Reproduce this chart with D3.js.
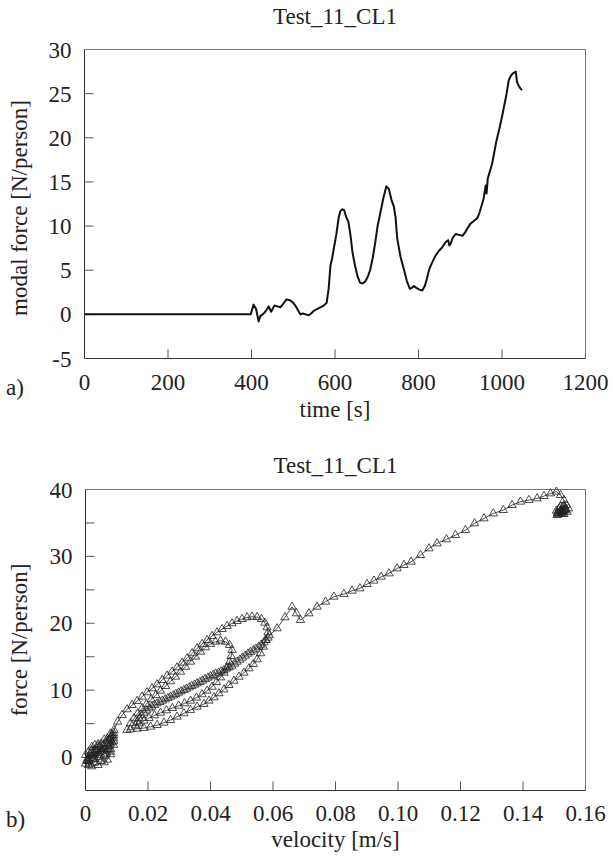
<!DOCTYPE html>
<html><head><meta charset="utf-8">
<script src="https://cdn.jsdelivr.net/npm/d3@7"></script>
<style>body{margin:0;background:#fff}svg{display:block}text{font-family:"Liberation Serif","Times New Roman",serif;fill:#222}</style>
</head><body>
<script>
// ---------- DATA ----------
const chartTitle = "Test_11_CL1";
// (a) modal force time history
const timeS = [0,100,200,300,398,405,411,417,421,427,433,441,447,455,462,469,476,484,492,500,505,511,517,523,530,537,543,549,557,565,573,580,585,589,593,597,603,609,613,618,622,627,632,637,642,648,654,660,666,672,678,684,690,696,702,709,716,723,729,735,741,745,749,757,765,772,779,784,789,795,802,809,815,820,825,832,840,849,857,865,871,874,877,882,889,897,905,912,918,925,933,941,946,951,956,959,961,963,966,971,976,981,986,991,996,1001,1006,1011,1016,1021,1026,1030,1033,1036,1040,1044,1048];
const modalForce = [0,0,0,0,0,1.1,0.6,-0.8,-0.2,0.0,0.3,0.9,0.3,1.0,0.9,0.8,1.2,1.7,1.6,1.3,1.0,0.5,0.0,0.1,0.0,-0.1,0.1,0.4,0.6,0.8,1.0,1.3,3.0,5.5,6.3,7.4,9.0,11.0,11.7,11.9,11.8,11.0,10.5,9.0,7.0,5.5,4.3,3.6,3.5,3.7,4.2,5.0,6.3,8.0,10.0,11.6,13.2,14.5,14.2,13.0,12.2,11.0,8.6,6.5,5.1,3.8,2.9,3.0,3.2,3.0,2.8,2.7,3.2,4.0,5.0,5.8,6.6,7.2,7.6,8.2,8.4,7.8,8.0,8.7,9.1,9.0,8.9,9.3,9.8,10.3,10.6,10.9,11.5,12.3,13.1,14.0,14.6,13.7,15.4,16.2,17.0,18.2,19.5,20.5,21.5,22.6,23.8,25.0,26.5,27.0,27.3,27.4,27.5,26.3,25.9,25.6,25.4];
const timeTicks = [0,200,400,600,800,1000,1200];
const modalTicks = [-5,0,5,10,15,20,25,30];

// (b) force vs velocity
const velocity = [
 0.000,0.001,0.002,0.001,0.000,0.001,0.003,0.004,0.003,0.002,0.004,0.005,0.006,0.005,0.004,0.002,0.001,0.003,0.005,0.007,0.008,0.007,0.006,0.008,0.009,0.008,0.007,0.006,0.008,0.009,0.009,0.008,0.007,0.005,0.003,0.002,0.004,0.006,0.008,0.009,
 0.0005,0.0015,0.0025,0.0035,0.0045,0.0055,0.0065,0.0075,0.0085,0.0070,0.0050,0.0030,0.0015,0.0005,0.0020,0.0040,0.0060,0.0080,0.0090,0.0085,
 0.0091,0.0103,0.0117,0.0133,0.0149,0.0165,0.0181,0.0197,0.0213,0.0229,0.0245,0.0261,0.0277,0.0293,0.0309,0.0325,0.0341,0.0357,0.0373,0.0389,0.0405,0.0421,0.0437,0.0453,0.0469,0.0485,0.0501,0.0517,0.0533,0.0549,0.0563,0.0574,0.0581,0.0584,
 0.0576,0.0569,0.0560,0.0549,0.0537,0.0523,0.0507,0.0491,0.0475,0.0459,0.0443,0.0427,0.0411,0.0395,0.0379,0.0357,0.0336,0.0315,0.0293,0.0272,0.0251,0.0229,0.0208,0.0187,0.0165,0.0144,0.0133,
 0.0144,0.0155,0.0167,0.0181,0.0195,0.0210,0.0225,0.0240,0.0256,0.0272,0.0288,0.0304,0.0320,0.0336,0.0352,0.0368,0.0384,0.0400,0.0416,0.0432,0.0448,0.0461,0.0469,
 0.0466,0.0461,0.0453,0.0443,0.0432,0.0419,0.0405,0.0389,0.0373,0.0355,0.0336,0.0317,0.0298,0.0278,0.0259,0.0240,0.0221,0.0203,0.0187,0.0172,0.0160,
 0.0165,0.0172,0.0179,0.0187,0.0195,0.0204,0.0212,0.0221,0.0229,0.0238,0.0246,0.0255,0.0264,0.0272,0.0281,0.0289,0.0298,0.0306,0.0315,0.0323,0.0332,0.0340,0.0349,0.0357,0.0366,0.0374,0.0383,0.0392,0.0400,0.0409,0.0417,0.0426,0.0434,0.0443,0.0451,0.0460,0.0468,0.0477,0.0485,0.0494,0.0502,0.0511,0.0520,0.0528,0.0537,0.0545,0.0554,0.0562,0.0571,0.0578,0.0584,0.0588,
 0.0613,0.0638,0.0661,0.0675,0.0688,0.0715,0.0741,0.0768,0.0795,
 0.0827,0.0853,0.0878,0.0901,0.0923,0.0946,0.0971,0.0997,0.1019,0.1042,0.1072,0.1099,0.1125,0.1155,0.1184,0.1216,0.1245,0.1275,0.1305,0.1337,0.1365,0.1392,0.1419,0.1445,0.1467,0.1488,0.1507,0.1520,0.1531,0.1539,0.1546,0.1541,0.1531,0.1515,0.1507,0.1520,0.1533,0.1525,0.1509,0.1522,
 0.1512,0.1526,0.1537,0.1530,0.1516,0.1510,0.1523,0.1535,0.1528,0.1514,0.1519,0.1531];
const force = [
 -1.0,-0.5,0.2,0.8,0.3,-1.2,-0.8,0.0,1.0,1.5,1.6,0.8,0.2,-0.6,-1.2,-1.4,-0.2,0.5,1.4,1.0,0.4,-0.4,-0.8,0.8,1.8,2.6,2.0,1.6,1.2,2.4,3.2,3.5,2.8,2.0,1.8,1.0,0.6,1.2,2.0,2.8,
 -0.6,0.4,-0.2,0.9,0.3,1.1,0.5,1.6,2.2,2.4,1.2,-0.3,-1.0,-0.4,0.6,1.9,2.6,3.0,3.6,3.3,
 4.04,5.28,6.28,7.13,7.77,8.37,9.02,9.67,10.27,10.86,11.51,12.16,12.76,13.40,14.10,14.75,15.50,16.25,16.90,17.49,18.09,18.63,19.13,19.58,19.98,20.33,20.63,20.88,20.98,20.93,20.63,20.08,19.38,18.63,
 17.49,16.49,15.50,14.60,13.90,13.25,12.60,12.00,11.40,10.76,10.10,9.52,8.92,8.42,7.92,7.52,7.03,6.53,6.03,5.53,5.13,4.78,4.53,4.33,4.23,4.13,4.04,
 5.03,5.78,6.53,7.28,7.92,8.62,9.27,9.91,10.61,11.31,12.00,12.75,13.50,14.25,15.00,15.74,16.40,16.90,17.24,17.39,17.24,16.74,16.00,
 15.10,14.25,13.40,12.60,11.90,11.20,10.50,9.91,9.37,8.87,8.42,8.02,7.67,7.32,6.98,6.62,6.23,5.83,5.43,5.03,4.73,
 5.28,5.78,6.23,6.62,6.97,7.27,7.52,7.77,8.02,8.22,8.42,8.62,8.82,9.02,9.22,9.42,9.62,9.82,10.01,10.21,10.41,10.61,10.81,11.01,11.21,11.41,11.66,11.86,12.06,12.26,12.46,12.61,12.81,13.00,13.20,13.40,13.65,13.95,14.25,14.55,14.85,15.15,15.45,15.70,15.94,16.19,16.49,16.79,17.14,17.49,17.84,18.19,
 19.23,20.88,22.47,21.47,20.48,21.47,22.47,23.22,23.97,
 24.37,24.86,25.21,25.86,26.36,26.95,27.45,28.20,28.70,29.20,30.19,31.19,31.94,32.54,33.18,33.93,34.93,35.67,36.42,36.92,37.67,38.17,38.42,38.66,39.01,39.41,39.66,39.16,38.42,37.67,37.17,36.67,36.32,36.42,36.82,37.42,37.02,36.52,36.17,36.82,
 36.3,36.6,37.1,37.6,37.2,36.5,36.4,36.9,37.3,36.9,36.6,36.8];
const velTicks = [0,0.02,0.04,0.06,0.08,0.10,0.12,0.14,0.16];
const forceTicks = [-5,0,5,10,15,20,25,30,35,40];
const forceLabels = [0,10,20,30,40];

// ---------- DRAW ----------
const W = 613, H = 860;
const svg = d3.select("body").append("svg").attr("width", W).attr("height", H);
const FS = 23;

function frame(g, x0, x1, y0, y1) {
  g.append("line").attr("x1", x0).attr("x2", x1).attr("y1", y0).attr("y2", y0).attr("stroke", "#777").attr("stroke-width", 1);
  g.append("line").attr("x1", x1).attr("x2", x1).attr("y1", y0).attr("y2", y1).attr("stroke", "#777").attr("stroke-width", 1);
  g.append("line").attr("x1", x0).attr("x2", x0).attr("y1", y0).attr("y2", y1).attr("stroke", "#333").attr("stroke-width", 1);
  g.append("line").attr("x1", x0).attr("x2", x1).attr("y1", y1).attr("y2", y1).attr("stroke", "#333").attr("stroke-width", 1);
}

// ---- chart a ----
{
  const L = 84.5, R = 585.5, T = 49.5, B = 358.5;
  const x = d3.scaleLinear().domain([0, 1200]).range([L, R]);
  const y = d3.scaleLinear().domain([-5, 30]).range([B, T]);
  const g = svg.append("g");
  svg.append("text").attr("x", (L + R) / 2).attr("y", 24).attr("text-anchor", "middle").attr("font-size", FS).text(chartTitle);
  frame(g, L, R, T, B);
  g.selectAll(".yt").data(modalTicks.filter(d => d > -5 && d < 30)).join("line")
    .attr("x1", L).attr("x2", L + 9).attr("y1", d => y(d)).attr("y2", d => y(d)).attr("stroke", "#555");
  g.selectAll(".yl").data(modalTicks).join("text")
    .attr("x", L - 13).attr("y", d => y(d)).attr("dy", "0.35em").attr("text-anchor", "end").attr("font-size", FS).text(d => d);
  g.selectAll(".xt").data(timeTicks.filter(d => d > 0 && d < 1200)).join("line")
    .attr("x1", d => x(d)).attr("x2", d => x(d)).attr("y1", B).attr("y2", B - 9).attr("stroke", "#555");
  g.selectAll(".xl").data(timeTicks).join("text")
    .attr("x", d => x(d)).attr("y", B + 31).attr("text-anchor", "middle").attr("font-size", FS).text(d => d);
  g.append("text").attr("x", (L + R) / 2).attr("y", B + 58).attr("text-anchor", "middle").attr("font-size", FS).text("time [s]");
  g.append("text").attr("x", 6).attr("y", B + 36).attr("font-size", FS).text("a)");
  g.append("text").attr("transform", `translate(27,${(T + B) / 2 + 4}) rotate(-90)`).attr("text-anchor", "middle").attr("font-size", FS).text("modal force [N/person]");
  const line = d3.line().x((d, i) => x(timeS[i])).y((d, i) => y(modalForce[i]));
  g.append("path").datum(timeS).attr("d", line).attr("fill", "none").attr("stroke", "#111").attr("stroke-width", 2).attr("stroke-linejoin", "round");
}

// ---- chart b ----
{
  const L = 85.5, R = 585.5, T = 489.5, B = 790.5;
  const x = d3.scaleLinear().domain([0, 0.16]).range([L, R]);
  const y = d3.scaleLinear().domain([-5, 40]).range([B, T]);
  const g = svg.append("g");
  svg.append("text").attr("x", (L + R) / 2).attr("y", 473).attr("text-anchor", "middle").attr("font-size", FS).text(chartTitle);
  frame(g, L, R, T, B);
  g.selectAll(".yt").data(forceTicks.filter(d => d > -5 && d < 40)).join("line")
    .attr("x1", L).attr("x2", L + 9).attr("y1", d => y(d)).attr("y2", d => y(d)).attr("stroke", "#555");
  g.selectAll(".yl").data(forceLabels).join("text")
    .attr("x", L - 13).attr("y", d => y(d)).attr("dy", "0.35em").attr("text-anchor", "end").attr("font-size", FS).text(d => d);
  g.selectAll(".xt").data(velTicks.filter(d => d > 0 && d < 0.16)).join("line")
    .attr("x1", d => x(d)).attr("x2", d => x(d)).attr("y1", B).attr("y2", B - 9).attr("stroke", "#555");
  g.selectAll(".xl").data(velTicks).join("text")
    .attr("x", d => x(d)).attr("y", B + 30).attr("text-anchor", "middle").attr("font-size", FS).text(d => d === 0 ? "0" : d.toFixed(2));
  g.append("text").attr("x", (L + R) / 2).attr("y", B + 56).attr("text-anchor", "middle").attr("font-size", FS).text("velocity [m/s]");
  g.append("text").attr("x", 6).attr("y", B + 36).attr("font-size", FS).text("b)");
  g.append("text").attr("transform", `translate(27,${(T + B) / 2}) rotate(-90)`).attr("text-anchor", "middle").attr("font-size", FS).text("force [N/person]");
  const line = d3.line().x((d, i) => x(velocity[i])).y((d, i) => y(force[i]));
  g.append("path").datum(velocity).attr("d", line).attr("fill", "none").attr("stroke", "#222").attr("stroke-width", 0.8);
  const sym = d3.symbol().type(d3.symbolTriangle).size(30);
  g.selectAll(".pt").data(velocity).join("path")
    .attr("transform", (d, i) => `translate(${x(velocity[i])},${y(force[i])})`)
    .attr("d", sym).attr("fill", "none").attr("stroke", "#222").attr("stroke-width", 0.8);
}
</script>
</body></html>
